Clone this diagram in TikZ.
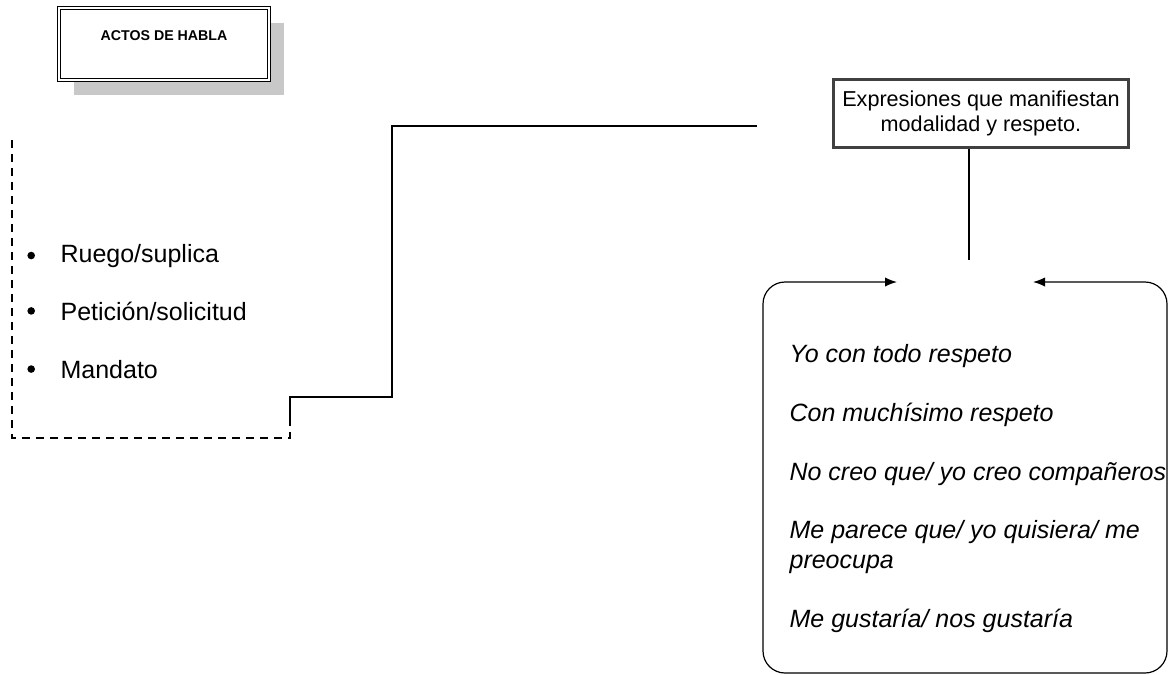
\documentclass[tikz,border=0pt]{standalone}
\usepackage{fontspec}
\setmainfont{Liberation Sans}
\usepackage{tikz}
\definecolor{gray300}{HTML}{C8C8C8}
\definecolor{gray800}{HTML}{404040}
\usetikzlibrary{arrows,arrows.meta,shadows}
\tikzstyle{titulo}=[draw=black, line width=0.5pt, double, double distance=1.2pt, fill=white, font=\bfseries\fontsize{7.1}{8}\selectfont, minimum width=104.8pt, inner xsep=0pt, inner ysep=9.9pt, text height=6pt, text depth=10pt, drop shadow={shadow xshift=7.5pt, shadow yshift=-7.5pt, fill=gray300, opacity=1}]
\tikzstyle{recuadro}=[draw=gray800, line width=1.5pt, fill=white, minimum width=147.4pt, minimum height=33.9pt, inner sep=0pt, align=center, font=\fontsize{10.8}{12.5}\selectfont]
\tikzstyle{item}=[anchor=base west, inner sep=0pt, font=\fontsize{12.5}{15}\selectfont]
\tikzstyle{punto}=[label distance=12.2pt, circle, fill=black, minimum size=3.8pt, inner sep=0pt]
\tikzstyle{frase}=[anchor=base west, inner sep=0pt, font=\itshape\fontsize{12.5}{15}\selectfont]
\tikzstyle{marco}=[dash pattern=on 4pt off 3pt]
\tikzstyle{punta}=[{Latex[length=6pt,width=4.6pt]}-{Latex[length=6pt,width=4.6pt]}]

\begin{document}
\begin{tikzpicture}[x=0.5pt, y=-0.5pt, line width=0.6pt]
			\useasboundingbox (0,0) rectangle (1175,675);
			\node[titulo] (actos) at (164,44) {ACTOS DE HABLA};
			\draw[marco] (12,140) -- (12,438) -- (290,438) -- (290,425) coordinate (pie);
			\node[label={[punto]180:{}}, item] (ruego) at (60,262) {Ruego/suplica};
			\node[label={[punto]180:{}}, item] (peticion) at (60,320) {Petición/solicitud};
			\node[label={[punto]180:{}}, item] (mandato) at (60,378) {Mandato};
			\coordinate (codo) at (392,397);
			\coordinate (fin) at (757,126);
			\path[draw=black]
				(pie) |- (codo) |- (fin);
			\node[recuadro] (expr) at (981,113.5) {Expresiones que manifiestan\\modalidad y respeto.};
			\coordinate (baja) at (969,260);
			\path[draw=black]
				(expr.south -| baja) -- (baja);
			\coordinate (flechaI) at (897,282);
			\coordinate (flechaD) at (1033,282);
			\path[draw=black, punta, rounded corners=11pt]
				(flechaI) -- (763,282) -- (763,673) -- (1167,673) -- (1167,282) -- (flechaD);
			\node[frase] (f1) at (789,362) {Yo con todo respeto};
			\node[frase] (f2) at (789,421) {Con muchísimo respeto};
			\node[frase] (f3) at (789,480) {No creo que/ yo creo compañeros};
			\node[frase] (f4) at (789,538) {Me parece que/ yo quisiera/ me};
			\node[frase] (f5) at (789,568) {preocupa};
			\node[frase] (f6) at (789,627) {Me gustaría/ nos gustaría};
		\end{tikzpicture}
\end{document}
